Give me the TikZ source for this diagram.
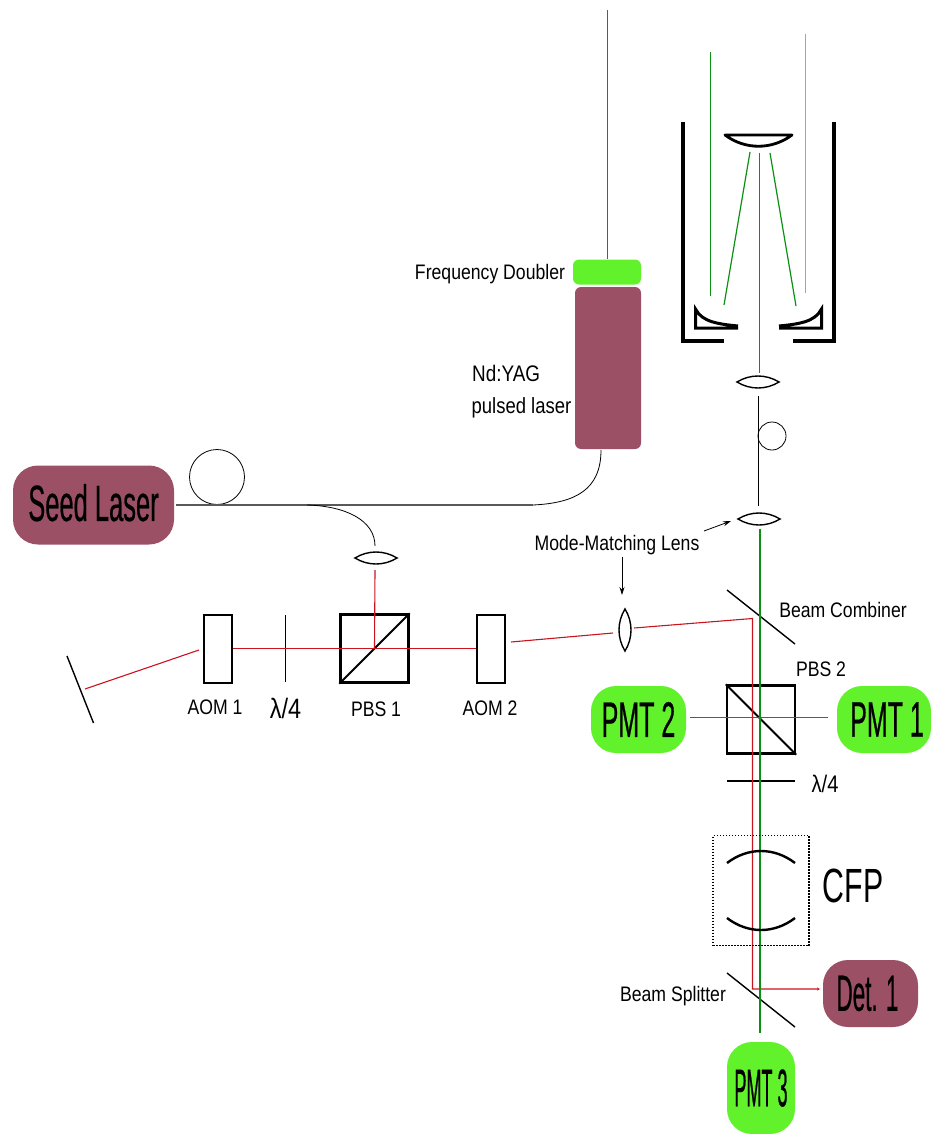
\documentclass[tikz,border=0pt]{standalone}
\usepackage{fontspec}
\setmainfont{Liberation Sans}
\newfontfamily\labelfont[FakeStretch=0.84]{Liberation Sans}
\newfontfamily\cfpfont[FakeStretch=0.63]{Liberation Sans}
\newfontfamily\boxfont[FakeStretch=0.5,FakeBold=0.4]{Liberation Sans}
\newfontfamily\detfont[FakeStretch=0.44,FakeBold=0.4]{Liberation Sans}
\newfontfamily\tubefont[FakeStretch=0.34,FakeBold=0.4]{Liberation Sans}
\usetikzlibrary{arrows.meta}
\definecolor{laserred}{HTML}{C9141E}
\definecolor{beamgreen}{HTML}{0A9012}
\definecolor{boxgreen}{HTML}{62F22B}
\definecolor{boxmaroon}{HTML}{9B5066}

\begin{document}
\begin{tikzpicture}[
  x=1pt, y=-1pt,
  >={Stealth[length=8pt, width=5pt]},
  lbl/.style={font=\labelfont\fontsize{21}{24}\selectfont, inner sep=0pt},
  source/.style={rounded corners=25pt, inner sep=0pt, text=black},
  maroonbox/.style={source, fill=boxmaroon},
  greenbox/.style={source, fill=boxgreen},
  bigname/.style={font=\boxfont\fontsize{50}{50}\selectfont},
  aom/.style={draw, line width=2pt, minimum width=28pt, minimum height=68pt, inner sep=0pt},
  cube/.style={draw, line width=2.4pt, minimum width=68pt, minimum height=68pt, inner sep=0pt},
  plate/.style={line width=1.4pt},
  redbeam/.style={laserred, line width=1.1pt},
  greenbeam/.style={beamgreen, line width=1.2pt},
  fibre/.style={black, line width=.8pt},
  housing/.style={line width=3.4pt},
  lens/.pic={\draw[line width=1.4pt] (-21,0) .. controls (-8,-8) and (8,-8) .. (21,0)
    .. controls (8,8) and (-8,8) .. (-21,0) -- cycle;},
]
\useasboundingbox (0,0) rectangle (930,1134);
% sources and detectors
\node[maroonbox, minimum width=161pt, minimum height=79pt, font=\boxfont\fontsize{51}{51}\selectfont] (seed) at (93.5,505) {\raisebox{5pt}{Seed Laser}};
\node[maroonbox, rounded corners=6pt, minimum width=66pt, minimum height=162pt] (yag) at (608,368) {};
\node[greenbox, rounded corners=6pt, minimum width=68pt, minimum height=25pt] (doubler) at (607,272) {};
\node[greenbox, minimum width=95pt, minimum height=67pt, bigname] (pmttwo) at (638.5,719.5) {PMT 2};
\node[greenbox, minimum width=94pt, minimum height=67pt, bigname] (pmtone) at (884,719.5) {\hspace*{6pt}PMT 1};
\node[greenbox, minimum width=68pt, minimum height=92pt, font=\tubefont\fontsize{53}{53}\selectfont] (pmtthree) at (761,1088) {PMT 3};
\node[maroonbox, minimum width=95pt, minimum height=67pt, font=\detfont\fontsize{51}{51}\selectfont] (det) at (870.5,993.5) {Det. 1\hspace*{6pt}};
% optics on the table
\node[aom] (aoma) at (217.5,648.5) {};
\node[aom] (aomb) at (491,648.5) {};
\node[cube] (pbsa) at (374.5,648.5) {};
\node[cube] (pbsb) at (761,719.5) {};
\coordinate (mirrortop) at (67,656);
\coordinate (mirrorbot) at (93.5,723);
\coordinate (qwatop) at (285.5,615);
\coordinate (qwabot) at (285.5,682);
\coordinate (qwbleft) at (727,781);
\coordinate (qwbright) at (795,781);
\coordinate (combtop) at (727,590);
\coordinate (combbot) at (795,644);
\coordinate (splittop) at (727,973);
\coordinate (splitbot) at (795,1027);
\draw[line width=1.4pt] (mirrortop) -- (mirrorbot);
\draw[plate] (qwatop) -- (qwabot);
\draw[plate] (qwbleft) -- (qwbright);
\draw[plate] (combtop) -- (combbot);
\draw[plate] (splittop) -- (splitbot);
\draw[line width=2pt] (pbsa.south west) -- (pbsa.north east);
\draw[line width=2pt] (pbsb.north west) -- (pbsb.south east);
% lenses
\coordinate (lensa) at (376,558);
\coordinate (lensb) at (625,630);
\coordinate (lensc) at (758,382);
\coordinate (lensd) at (759,519);
\pic at (lensa) {lens};
\pic[rotate=90] at (lensb) {lens};
\pic at (lensc) {lens};
\pic at (lensd) {lens};
% fibres
\node[draw, circle, fibre, minimum size=55pt, inner sep=0pt] (loopa) at (217,477) {};
\node[draw, circle, fibre, minimum size=28pt, inner sep=0pt] (loopb) at (772,436) {};
\coordinate (fibresplit) at (307,505);
\coordinate (fibrebend) at (533,505);
\coordinate (fibreyag) at (601,450);
\coordinate (fibrelens) at (375,546);
\coordinate (fibreup) at (758,396);
\coordinate (fibredown) at (758,506);
\draw[black!65, line width=1.3pt] (seed.east |- fibrebend) ++(2,0) -- (fibrebend);
\draw[fibre] (fibrebend) .. controls (575,503) and (601,490) .. (fibreyag);
\draw[fibre] (fibresplit) .. controls (345,506) and (375,520) .. (fibrelens);
\draw[fibre] (fibreup) -- (fibredown);
% red beam
\coordinate (redlens) at (375,570);
\coordinate (redmirror) at (85,689);
\coordinate (redaom) at (199,650);
\coordinate (redouta) at (511,642);
\coordinate (redina) at (613,633);
\coordinate (redoutb) at (634,628);
\coordinate (redcorner) at (752.5,618.5);
\coordinate (reddown) at (752.5,989);
\coordinate (reddet) at (820,989);
\draw[redbeam] (redlens) -- (pbsa.center |- aoma);
\draw[redbeam] (aoma.east) -- (aomb.west);
\draw[redbeam] (redmirror) -- (redaom);
\draw[redbeam] (redouta) -- (redina);
\draw[redbeam, -{Stealth[length=3pt, width=3pt]}] (redoutb) -- (redcorner) -- (reddown) -- (reddet);
% green beams
\coordinate (greentop) at (607.5,10);
\coordinate (greenleft) at (710.5,52);
\coordinate (greenleftend) at (710.5,296);
\coordinate (greyright) at (805.5,34);
\coordinate (greyrightend) at (805.5,293);
\coordinate (greenmid) at (759.5,153);
\coordinate (greenmidend) at (759.5,373);
\coordinate (slantatop) at (750,152);
\coordinate (slantabot) at (724,305);
\coordinate (slantbtop) at (770,153);
\coordinate (slantbbot) at (796,306);
\coordinate (greenlow) at (760,529);
\coordinate (greenlowend) at (760,1033);
\coordinate (greenleftpmt) at (690,717.5);
\coordinate (greenrightpmt) at (828,717.5);
\draw[greenbeam] (greentop) -- (doubler.north -| greentop);
\draw[greenbeam] (greenleft) -- (greenleftend);
\draw[beamgreen!55!white, line width=1pt] (greyright) -- (greyrightend);
\draw[greenbeam] (greenmid) -- (greenmidend);
\draw[greenbeam] (slantatop) -- (slantabot);
\draw[greenbeam] (slantbtop) -- (slantbbot);
\draw[beamgreen, line width=2pt] (greenlow) -- (greenlowend);
\draw[greenbeam] (greenleftpmt) -- (greenrightpmt);
% telescope housing
\draw[housing] (683,122) -- (683,341) -- (724,341);
\draw[housing] (834,122) -- (834,341) -- (793,341);
\draw[line width=2.8pt, line join=round] (725,135) -- (792,135) .. controls (772,150) and (745,150) .. (725,135) -- cycle;
\draw[line width=3pt, line join=miter] (738,328) -- (695.5,328) -- (695.5,309) .. controls (702,322) and (718,324) .. (738,326);
\draw[line width=3pt, line join=miter] (779,328) -- (821.5,328) -- (821.5,309) .. controls (815,322) and (799,324) .. (779,326);
% cavity
\node[draw, dash pattern=on 1.5pt off 1.5pt, line width=1.5pt, minimum width=96pt, minimum height=110pt, inner sep=0pt] (cfpbox) at (761,890.5) {};
\draw[line width=2.4pt] (727,863) .. controls (748,847) and (774,847) .. (795,863);
\draw[line width=2.4pt] (727,918) .. controls (748,934) and (774,934) .. (795,918);
% labels
\node[lbl] (doublerlbl) at (490,274) {Frequency Doubler};
\node[lbl, anchor=west, font=\labelfont\fontsize{22.5}{24}\selectfont] (yaglbl) at (472,373) {Nd:YAG};
\node[lbl, font=\labelfont\fontsize{22}{24}\selectfont] (pulsedlbl) at (521.5,408) {pulsed laser};
\node[lbl] (modelbl) at (617,545) {Mode-Matching Lens};
\node[lbl] (comblbl) at (843,610) {Beam Combiner};
\node[lbl] (pbsblbl) at (821,669) {PBS 2};
\node[lbl] (aomalbl) at (215,707) {AOM 1};
\node[lbl, font=\labelfont\fontsize{28}{28}\selectfont] (qwalbl) at (285.5,708) {λ/4};
\node[lbl] (pbsalbl) at (376,709) {PBS 1};
\node[lbl] (aomblbl) at (490,708) {AOM 2};
\node[lbl, font=\labelfont\fontsize{24}{24}\selectfont] (qwblbl) at (825,784) {λ/4};
\node[lbl] (splitlbl) at (673,996) {Beam Splitter};
\node[lbl, font=\cfpfont\fontsize{48}{48}\selectfont] (cfplbl) at (853,886) {CFP};
\coordinate (frommode) at (704,531);
\coordinate (tolensd) at (731,521);
\coordinate (tolensb) at (622,595);
\draw[->, line width=.8pt] (frommode) -- (tolensd);
\draw[->, line width=.8pt] (modelbl.south -| tolensb) ++(0,2) -- (tolensb);
\end{tikzpicture}
\end{document}
